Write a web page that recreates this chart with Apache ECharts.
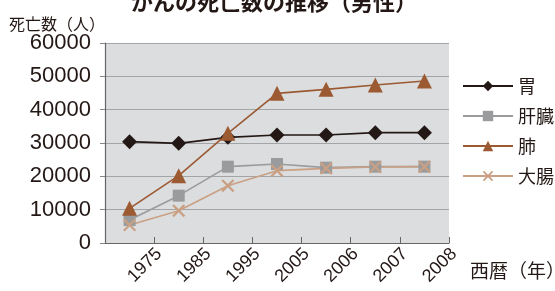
<!DOCTYPE html>
<html>
<head>
<meta charset="utf-8">
<script src="https://cdn.jsdelivr.net/npm/echarts@6/dist/echarts.min.js"></script>
<style>
  html, body { margin: 0; padding: 0; background: #fff; }
  #chart { width: 555px; height: 291px; }
</style>
</head>
<body>
<div id="chart"></div>
<script>
const years = ['1975', '1985', '1995', '2005', '2006', '2007', '2008'];
const stomach = [30400, 29900, 31700, 32400, 32400, 33100, 33100];
const liver = [6900, 14200, 22900, 23700, 22600, 22900, 22900];
const lung = [10400, 20200, 32900, 44900, 46100, 47400, 48600];
const colon = [5400, 9700, 17200, 21700, 22400, 22800, 22900];

const font = '"Noto Sans CJK JP", "Noto Sans", sans-serif';
const numFont = '"Liberation Sans", Arial, sans-serif';
const crossPath = 'path://M0,1.2L1.2,0L5,3.8L8.8,0L10,1.2L6.2,5L10,8.8L8.8,10L5,6.2L1.2,10L0,8.8L3.8,5Z';

const chart = echarts.init(document.getElementById('chart'));

const makeSeries = (name, data, color, symbol, size) => ({
  name: name,
  type: 'line',
  data: data,
  xAxisIndex: 0,
  symbol: symbol,
  symbolSize: size,
  showSymbol: true,
  animation: false,
  lineStyle: { color: color, width: 1.6 },
  itemStyle: { color: color, opacity: 1 }
});

chart.setOption({
  backgroundColor: '#fff',
  textStyle: { fontFamily: font },
  title: {
    text: 'がんの死亡数の推移（男性）',
    left: 269,
    textAlign: 'center',
    top: -14,
    textStyle: { fontSize: 22, fontWeight: 'bold', color: '#231815', fontFamily: font }
  },
  grid: {
    left: 105, right: 106, top: 43, bottom: 48,
    outerBoundsMode: 'none',
    containLabel: false,
    show: true, backgroundColor: '#dcdddf', borderWidth: 0
  },
  legend: {
    orient: 'vertical',
    left: 457,
    top: 72,
    itemWidth: 50,
    itemHeight: 13,
    itemGap: 12,
    textStyle: { fontSize: 18, color: '#231815', fontFamily: font },
    data: ['胃', '肝臓', '肺', '大腸']
  },
  xAxis: [{
    type: 'category',
    data: years,
    boundaryGap: true,
    axisLine: { lineStyle: { color: '#666', width: 1.2 } },
    axisTick: { show: false },
    axisLabel: { show: false },
    splitLine: { show: false }
  }, {
    type: 'value',
    position: 'bottom',
    min: 0,
    max: 7,
    interval: 1,
    name: '西暦（年）',
    nameLocation: 'end',
    nameGap: 21,
    nameTextStyle: { fontSize: 19, color: '#231815', align: 'left', verticalAlign: 'top', padding: [18, 0, 0, 0], fontFamily: font },
    axisLine: { show: false },
    axisTick: { show: true, inside: true, length: 6, lineStyle: { color: '#666' } },
    splitLine: { show: false },
    axisLabel: {
      rotate: 45,
      margin: 13,
      fontSize: 18,
      color: '#231815',
      fontFamily: numFont,
      padding: [0, -7, 0, 0],
      formatter: v => (v >= 1 ? years[v - 1] : '')
    }
  }],
  yAxis: {
    type: 'value',
    min: 0,
    max: 60000,
    interval: 10000,
    name: '死亡数（人）',
    nameLocation: 'end',
    nameGap: 10,
    nameTextStyle: { fontSize: 16, color: '#231815', align: 'right', padding: [0, 0, 0, 0], fontFamily: font },
    axisLine: { show: true, lineStyle: { color: '#666', width: 1.2 } },
    axisTick: { show: true, length: 5, lineStyle: { color: '#888' } },
    axisLabel: { fontSize: 22, color: '#231815', margin: 14, fontFamily: numFont, formatter: v => String(v) },
    splitLine: { lineStyle: { color: '#a3a4a6', width: 1 } }
  },
  series: [
    makeSeries('胃', stomach, '#231815', 'diamond', 15),
    makeSeries('肝臓', liver, '#9a9b9d', 'rect', 12),
    makeSeries('肺', lung, '#9b5a32', 'triangle', 15),
    makeSeries('大腸', colon, '#c9a083', crossPath, 13)
  ]
});
</script>
</body>
</html>
